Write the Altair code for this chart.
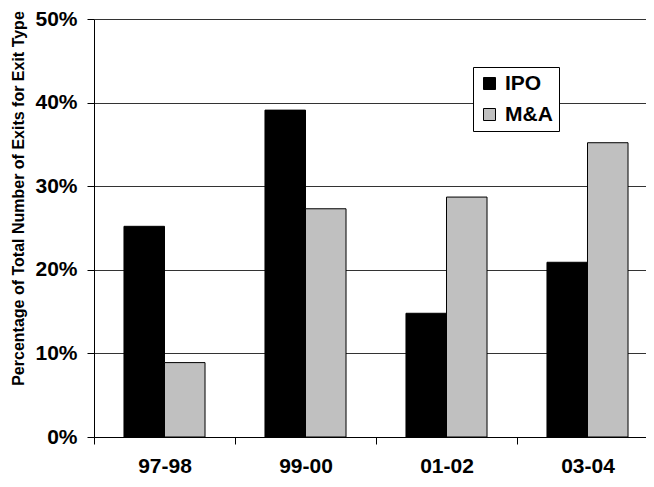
import altair as alt
import pandas as pd

periods = ["97-98", "99-00", "01-02", "03-04"]
ipo = [25.2, 39.1, 14.8, 20.9]
ma = [8.9, 27.3, 28.7, 35.2]
series = ["IPO", "M&A"]

rows = []
for i, p in enumerate(periods):
    rows.append({"period": p, "type": "IPO", "value": ipo[i] / 100})
    rows.append({"period": p, "type": "M&A", "value": ma[i] / 100})
df = pd.DataFrame(rows)

FONT = "Liberation Sans"

chart = alt.Chart(df).mark_bar(stroke="black", strokeWidth=1).encode(
    x=alt.X("period:N", sort=periods,
            scale=alt.Scale(paddingInner=0, paddingOuter=0, range=[0, 564]),
            axis=alt.Axis(title=None, labelAngle=0, tickBand="extent", tickSize=7,
                          tickColor="black", domainColor="black", labelFontSize=21,
                          labelFont=FONT, labelFontWeight="bold", labelColor="black",
                          labelPadding=11, grid=False)),
    xOffset=alt.XOffset("type:N", sort=series,
                        scale=alt.Scale(paddingInner=0, paddingOuter=0.74)),
    y=alt.Y("value:Q", scale=alt.Scale(domain=[0, 0.5], nice=False),
            axis=alt.Axis(title="Percentage of Total Number of Exits for Exit Type",
                          format=".0%", values=[0, 0.1, 0.2, 0.3, 0.4, 0.5],
                          tickSize=7, tickColor="black", domainColor="black",
                          gridColor="#333", gridOpacity=1,
                          labelFontSize=21, labelFont=FONT, labelFontWeight="bold",
                          labelColor="black", labelPadding=10,
                          titleFont=FONT, titleFontSize=16, titleFontWeight="bold",
                          titleColor="black", titleAngle=270, titleAlign="center",
                          titleBaseline="middle", titleX=-76, titleY=179)),
    color=alt.Color("type:N", sort=series,
                    scale=alt.Scale(domain=series, range=["#000000", "#c0c0c0"]),
                    legend=alt.Legend(title=None, orient="none", legendX=379, legendY=48,
                                      symbolType="square", symbolSize=144,
                                      symbolStrokeColor="black", symbolStrokeWidth=1,
                                      labelFont=FONT, labelFontSize=21,
                                      labelFontWeight="bold", labelColor="black",
                                      labelOffset=5, rowPadding=9, padding=6,
                                      strokeColor="black", fillColor="white",
                                      cornerRadius=0)),
).properties(
    width=552, height=418,
    autosize=alt.AutoSizeParams(type="none"),
    padding={"left": 86, "top": 11, "right": 0, "bottom": 42},
).configure_view(stroke=None).configure_axis(domainWidth=1, tickWidth=1, gridWidth=1)

chart.save("out.html", embed_options={"renderer": "svg", "actions": False})
